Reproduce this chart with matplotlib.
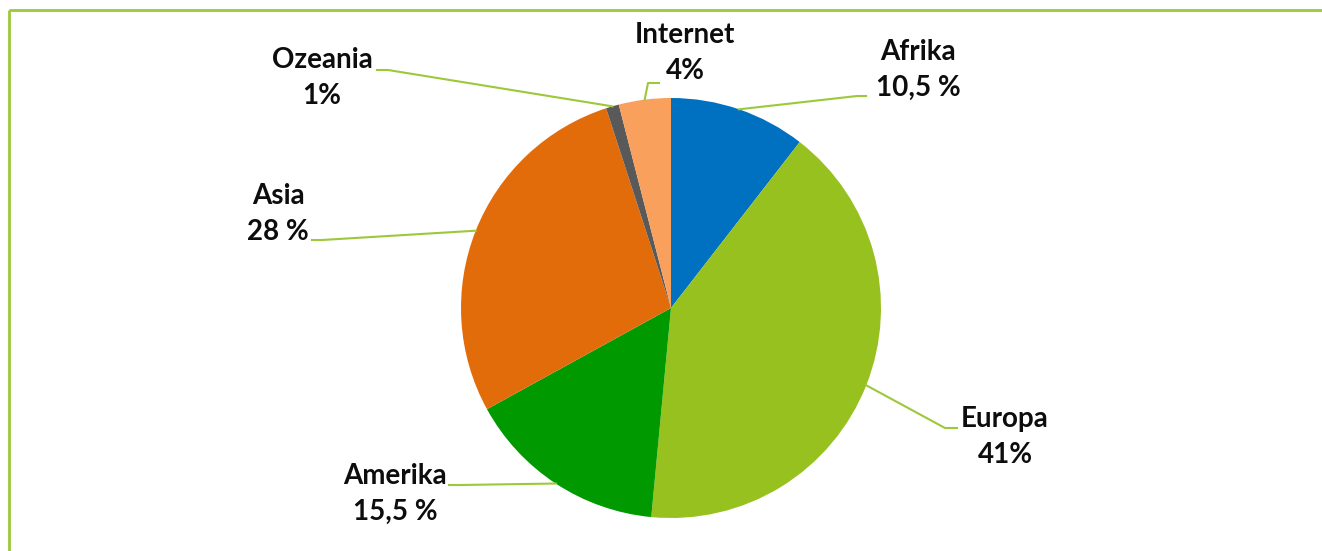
import matplotlib
matplotlib.use("Agg")
import matplotlib.pyplot as plt
import numpy as np

categories = ["Afrika", "Europa", "Amerika", "Asia", "Ozeania", "Internet"]
values = [10.5, 41, 15.5, 28, 1, 4]
value_labels = ["10,5 %", "41%", "15,5 %", "28 %", "1%", "4%"]
colors = ["#0070C0", "#97C11F", "#009A00", "#E36C0A", "#595959", "#F9A05C"]

W, H = 1322, 551
fig = plt.figure(figsize=(W / 100, H / 100), dpi=100)
ax = fig.add_axes([0, 0, 1, 1])

cx, cy, r = 671, H - 308, 210
ax.pie(values, colors=colors, startangle=90, counterclock=False,
       center=(cx, cy), radius=r, frame=True,
       wedgeprops=dict(linewidth=0))
ax.set_xlim(0, W)
ax.set_ylim(0, H)
ax.set_aspect("equal")
ax.axis("off")

line_c = "#9DC83A"
# frame (top and left)
ax.plot([9, W], [H - 10, H - 10], color=line_c, lw=2, solid_capstyle="butt")
ax.plot([9, 9], [H - 10, 0], color=line_c, lw=2, solid_capstyle="butt")

# label layout: (text centre x, centre y of block), elbow point, end point (top-down px)
layout = {
    "Afrika": ((918, 70), (857, 96), (866, 96)),
    "Europa": ((1005, 437), (945, 428), (957, 428)),
    "Amerika": ((395, 494), (460, 485), (449, 485)),
    "Asia": ((278, 214), (322, 240), (312, 240)),
    "Ozeania": ((322, 78), (388, 70), (377, 70)),
    "Internet": ((685, 53), (648, 83), (659, 83)),
}

total = sum(values)
cum = 0
for cat, v, lab in zip(categories, values, value_labels):
    mid = (cum + v / 2) / total * 360
    cum += v
    ang = np.deg2rad(90 - mid)
    sx, sy = cx + r * np.cos(ang), cy + r * np.sin(ang)
    (tx, ty), (ex, ey), (fx, fy) = layout[cat]
    ax.plot([sx, ex, fx], [sy, H - ey, H - fy], color=line_c, lw=1.5)
    ax.text(tx, H - ty, f"{cat}\n{lab}", ha="center", va="center",
            fontsize=20, fontweight="bold", family="Lato",
            linespacing=1.5, color="#0D0D0D")

fig.savefig("out.png", dpi=100)
